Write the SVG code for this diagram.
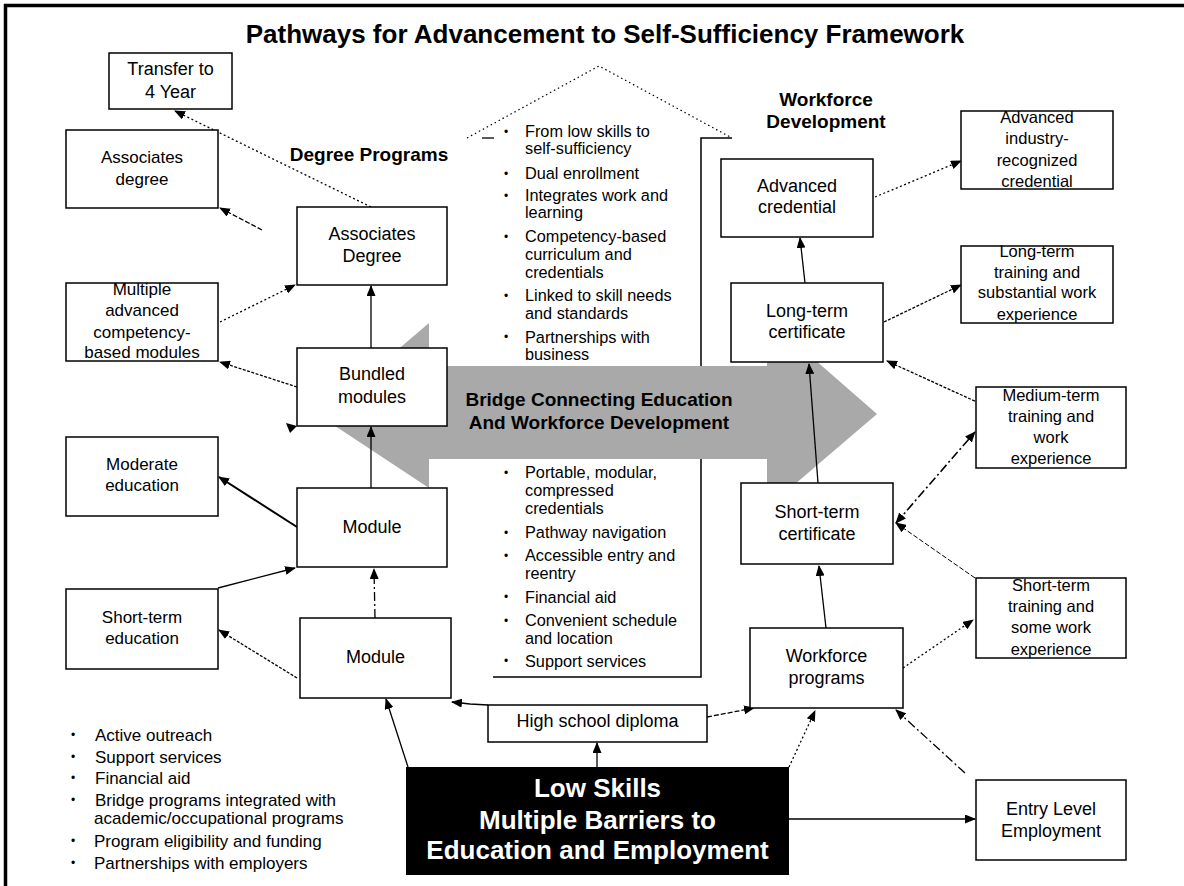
<svg xmlns="http://www.w3.org/2000/svg" width="1184" height="886" viewBox="0 0 1184 886">
<defs>
<marker id="ah" markerUnits="userSpaceOnUse" markerWidth="11" markerHeight="9" refX="10" refY="4.5" orient="auto-start-reverse" viewBox="0 0 11 9">
<path d="M0,0 L11,4.5 L0,9 Z" fill="#000"/>
</marker>
</defs>
<style>
text{font-family:"Liberation Sans",Arial,sans-serif;fill:#000}
.box{fill:#fff;stroke:#000;stroke-width:1.5}
.t17{font-size:17px;text-anchor:middle}
.t16{font-size:16.5px;text-anchor:middle}
.t18{font-size:18px;text-anchor:middle}
.hd{font-size:19px;font-weight:bold;text-anchor:middle}
.bl{font-size:17px}
.hb{font-size:16.3px}
.bt{font-size:12px}
.c{fill:none;stroke:#000;stroke-width:1.3;marker-end:url(#ah)}
.dot{stroke-dasharray:2 2.5}
.dash{stroke-dasharray:5 2}
.dd{stroke-dasharray:9 3 2 3}
.fine{stroke-dasharray:3 1.5}
</style>
<g id="frame" stroke="#000" stroke-width="3.5">
<line x1="4" y1="5.5" x2="1184" y2="5.5"/>
<line x1="5.5" y1="4" x2="5.5" y2="886"/>
</g>
<text id="title" x="605" y="43" style="font-size:26px;font-weight:bold;text-anchor:middle">Pathways for Advancement to Self-Sufficiency Framework</text>
<g id="house">
<polyline points="467,138 599,66 732,138" fill="none" stroke="#000" stroke-width="1.2" stroke-dasharray="1.5 3"/>
<line x1="482" y1="138" x2="494" y2="138" stroke="#000" stroke-width="1.3"/>
<polyline points="732,138 701,138 701,677 493,677" fill="none" stroke="#000" stroke-width="1.5"/>
</g>
<g id="house-top-bullets">
<text class="bt" x="504" y="136">•</text><text class="hb" x="525" y="137">From low skills to</text><text class="hb" x="525" y="154">self-sufficiency</text>
<text class="bt" x="504" y="178">•</text><text class="hb" x="525" y="179">Dual enrollment</text>
<text class="bt" x="504" y="200">•</text><text class="hb" x="525" y="201">Integrates work and</text><text class="hb" x="525" y="218">learning</text>
<text class="bt" x="504" y="241">•</text><text class="hb" x="525" y="242">Competency-based</text><text class="hb" x="525" y="260">curriculum and</text><text class="hb" x="525" y="278">credentials</text>
<text class="bt" x="504" y="300">•</text><text class="hb" x="525" y="301">Linked to skill needs</text><text class="hb" x="525" y="318.5">and standards</text>
<text class="bt" x="504" y="341">•</text><text class="hb" x="525" y="342.5">Partnerships with</text><text class="hb" x="525" y="360">business</text>
</g>
<g id="house-bottom-bullets">
<text class="bt" x="504" y="477">•</text><text class="hb" x="525" y="478">Portable, modular,</text><text class="hb" x="525" y="496">compressed</text><text class="hb" x="525" y="514">credentials</text>
<text class="bt" x="504" y="537">•</text><text class="hb" x="525" y="538.3">Pathway navigation</text>
<text class="bt" x="504" y="560">•</text><text class="hb" x="525" y="561">Accessible entry and</text><text class="hb" x="525" y="579">reentry</text>
<text class="bt" x="504" y="601">•</text><text class="hb" x="525" y="602.7">Financial aid</text>
<text class="bt" x="504" y="625">•</text><text class="hb" x="525" y="626">Convenient schedule</text><text class="hb" x="525" y="644">and location</text>
<text class="bt" x="504" y="665">•</text><text class="hb" x="525" y="666.7">Support services</text>
</g>
<g id="bridge-arrow">
<polygon points="320,416 429,323 429,366 767,366 767,318 877,414 767,508 767,459 429,459 429,488" fill="#a9a9a9"/>
<text class="hd" x="599" y="406">Bridge Connecting Education</text>
<text class="hd" x="599" y="429.3">And Workforce Development</text>
</g>
<text id="label-degree" class="hd" x="369" y="160.7">Degree Programs</text>
<text id="label-workforce" class="hd" x="826" y="106">Workforce</text>
<text id="label-workforce2" class="hd" x="826" y="128.3">Development</text>
<g id="connectors">
<line class="c dot" x1="371" y1="207" x2="175" y2="111"/>
<line class="c dash" x1="262" y1="230" x2="220" y2="208"/>
<line class="c dot" x1="220" y1="322" x2="295" y2="285"/>
<line class="c" x1="371" y1="348" x2="371" y2="286"/>
<line class="c fine" x1="297" y1="387" x2="220" y2="362"/>
<line class="c" x1="371" y1="488" x2="371" y2="427"/>
<line class="c" style="stroke-width:2" x1="297" y1="527" x2="219" y2="477"/>
<line class="c" x1="218" y1="588" x2="295" y2="568"/>
<line class="c dd" x1="375" y1="618" x2="374" y2="569"/>
<line class="c fine" x1="297" y1="678" x2="219" y2="630"/>
<line class="c" x1="408" y1="767" x2="386" y2="699"/>
<polyline class="c" points="488,705 470,704 452,702"/>
<line class="c" x1="597" y1="767" x2="597" y2="743"/>
<line class="c dash" x1="707" y1="717" x2="754" y2="708"/>
<line class="c dot" x1="789" y1="767" x2="815" y2="711"/>
<line class="c dd" x1="965" y1="773" x2="896" y2="710"/>
<line class="c" x1="789" y1="819" x2="975" y2="819"/>
<line class="c" x1="826" y1="628" x2="819" y2="566"/>
<line class="c dot" x1="903" y1="668" x2="973" y2="620"/>
<line class="c dash" style="stroke-width:1" x1="975" y1="578" x2="896" y2="523"/>
<line class="c dd" style="stroke-width:1.6;marker-start:url(#ah)" x1="896" y1="523" x2="975" y2="432"/>
<line class="c fine" x1="979" y1="403" x2="887" y2="361"/>
<line class="c" x1="818" y1="483" x2="809" y2="364"/>
<line class="c fine" x1="884" y1="322" x2="961" y2="285"/>
<line class="c" x1="805" y1="283" x2="800" y2="238"/>
<line class="c dot" x1="875" y1="197" x2="961" y2="161"/>
<polygon points="297,426 286,423 290,433" fill="#000"/>
</g>
<g id="transfer"><rect class="box" x="109" y="53" width="123" height="56"/><text class="t18" x="170.5" y="75">Transfer to</text><text class="t18" x="170.5" y="98">4 Year</text></g>
<g id="assoc-left"><rect class="box" x="66" y="130" width="152" height="78"/><text class="t17" x="142" y="162.7">Associates</text><text class="t17" x="142" y="185">degree</text></g>
<g id="assoc-degree"><rect class="box" x="297" y="207" width="150" height="78"/><text class="t18" x="372" y="239.5">Associates</text><text class="t18" x="372" y="261.5">Degree</text></g>
<g id="multiple"><rect class="box" x="66" y="283" width="152" height="78"/><text class="t17" x="142" y="295">Multiple</text><text class="t17" x="142" y="316">advanced</text><text class="t17" x="142" y="337.7">competency-</text><text class="t17" x="142" y="358.3">based modules</text></g>
<g id="bundled"><rect class="box" x="297" y="348" width="150" height="78"/><text class="t18" x="372" y="380">Bundled</text><text class="t18" x="372" y="402.7">modules</text></g>
<g id="moderate"><rect class="box" x="66" y="437" width="152" height="79"/><text class="t17" x="142" y="470">Moderate</text><text class="t17" x="142" y="490.7">education</text></g>
<g id="module-mid"><rect class="box" x="297" y="488" width="150" height="79"/><text class="t18" x="372" y="533.3">Module</text></g>
<g id="short-edu"><rect class="box" x="66" y="589" width="152" height="80"/><text class="t17" x="142" y="623.3">Short-term</text><text class="t17" x="142" y="644">education</text></g>
<g id="module-bot"><rect class="box" x="300" y="618" width="151" height="80"/><text class="t18" x="375.5" y="663.3">Module</text></g>
<g id="hs"><rect class="box" x="488" y="705" width="219" height="37"/><text class="t18" x="597.5" y="727">High school diploma</text></g>
<g id="low-skills"><rect x="406" y="767" width="383" height="108" fill="#000"/>
<text x="597.5" y="797" style="font-size:26px;font-weight:bold;text-anchor:middle;fill:#fff">Low Skills</text>
<text x="597.5" y="828.5" style="font-size:26px;font-weight:bold;text-anchor:middle;fill:#fff">Multiple Barriers to</text>
<text x="597.5" y="858.5" style="font-size:26px;font-weight:bold;text-anchor:middle;fill:#fff">Education and Employment</text></g>
<g id="adv-cred"><rect class="box" x="721" y="159" width="152" height="78"/><text class="t18" x="797" y="191.7">Advanced</text><text class="t18" x="797" y="213.3">credential</text></g>
<g id="adv-ind"><rect class="box" x="961" y="111" width="152" height="78"/><text class="t16" x="1037" y="123.3">Advanced</text><text class="t16" x="1037" y="144">industry-</text><text class="t16" x="1037" y="166">recognized</text><text class="t16" x="1037" y="186.7">credential</text></g>
<g id="long-train"><rect class="box" x="961" y="246" width="152" height="77"/><text class="t16" x="1037" y="257.3">Long-term</text><text class="t16" x="1037" y="278.3">training and</text><text class="t16" x="1037" y="298.3">substantial work</text><text class="t16" x="1037" y="320">experience</text></g>
<g id="long-cert"><rect class="box" x="731" y="283" width="152" height="79"/><text class="t18" x="807" y="316.7">Long-term</text><text class="t18" x="807" y="338.3">certificate</text></g>
<g id="medium"><rect class="box" x="976" y="387" width="150" height="81"/><text class="t16" x="1051" y="400.7">Medium-term</text><text class="t16" x="1051" y="421.7">training and</text><text class="t16" x="1051" y="442.7">work</text><text class="t16" x="1051" y="464.3">experience</text></g>
<g id="short-cert"><rect class="box" x="741" y="483" width="152" height="81"/><text class="t18" x="817" y="518.3">Short-term</text><text class="t18" x="817" y="540">certificate</text></g>
<g id="short-train"><rect class="box" x="976" y="578" width="150" height="80"/><text class="t16" x="1051" y="590.7">Short-term</text><text class="t16" x="1051" y="611.7">training and</text><text class="t16" x="1051" y="632.7">some work</text><text class="t16" x="1051" y="655">experience</text></g>
<g id="workforce"><rect class="box" x="750" y="628" width="153" height="80"/><text class="t18" x="826.5" y="661.7">Workforce</text><text class="t18" x="826.5" y="684">programs</text></g>
<g id="entry"><rect class="box" x="976" y="780" width="150" height="80"/><text class="t18" x="1051" y="815">Entry Level</text><text class="t18" x="1051" y="836.7">Employment</text></g>
<g id="left-bullets">
<text class="bt" x="71" y="739">•</text><text class="bl" x="95" y="740.7">Active outreach</text>
<text class="bt" x="71" y="761">•</text><text class="bl" x="95" y="762.7">Support services</text>
<text class="bt" x="71" y="782">•</text><text class="bl" x="95" y="784">Financial aid</text>
<text class="bt" x="71" y="804">•</text><text class="bl" x="95" y="806">Bridge programs integrated with</text><text class="bl" x="94" y="824.3">academic/occupational programs</text>
<text class="bt" x="71" y="845">•</text><text class="bl" x="94" y="846.7">Program eligibility and funding</text>
<text class="bt" x="71" y="867">•</text><text class="bl" x="94" y="869.3">Partnerships with employers</text>
</g>
</svg>
